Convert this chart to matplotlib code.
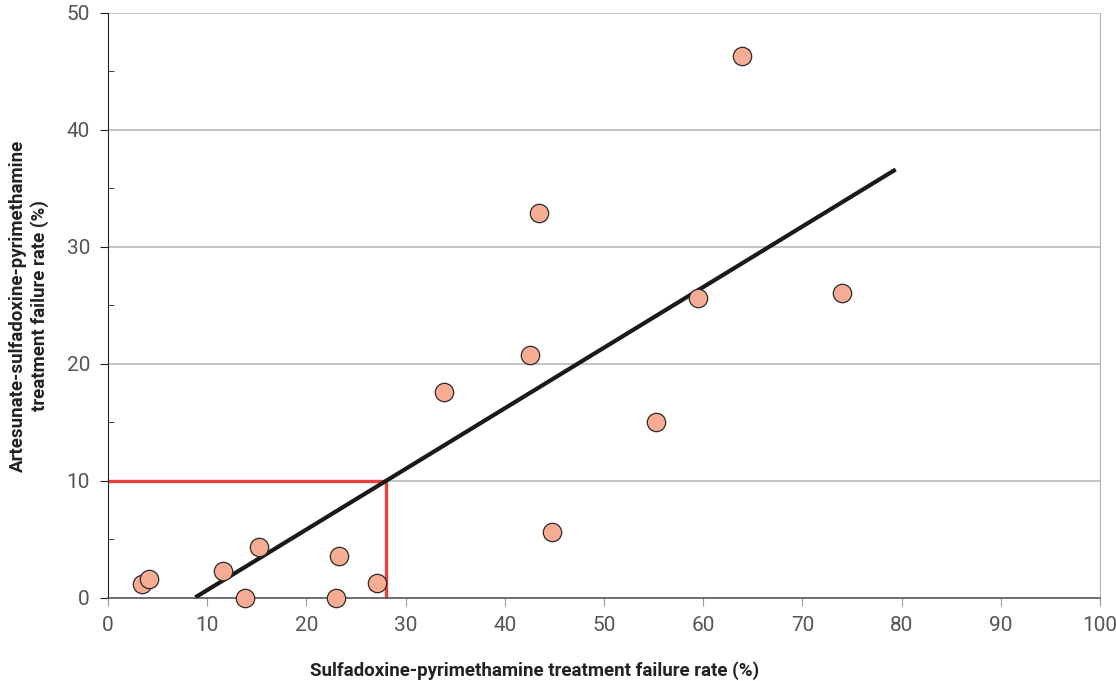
"""Scatter: AS-SP vs SP treatment failure rates"""
import numpy as np
import matplotlib
matplotlib.use("Agg")
import matplotlib.pyplot as plt

# data
sp_fail = [3.4, 4.1, 11.6, 15.2, 13.8, 23.3, 23.0, 27.1, 33.9, 42.5,
           43.4, 44.8, 55.2, 59.5, 63.9, 74.0]
as_sp_fail = [1.2, 1.6, 2.3, 4.4, 0.0, 3.6, 0.0, 1.3, 17.6, 20.8,
              32.9, 5.6, 15.0, 25.6, 46.3, 26.1]

fit_x = [8.8, 79.4]
fit_slope = 0.518
cutoff_y = 10
cutoff_x = 28

x_ticks = list(range(0, 101, 10))
y_ticks = list(range(0, 51, 10))

plt.rcParams['font.family'] = ['Roboto', 'DejaVu Sans']

fig = plt.figure(figsize=(11.16, 6.81), dpi=100)
ax = fig.add_axes([0.0968, 0.1219, 0.8889, 0.8591])

ax.set_xlim(0, 100)
ax.set_ylim(0, 50)

for yv in y_ticks[1:]:
    ax.axhline(yv, color='#b3b3b3', lw=1.1, zorder=0)

# cutoff lines
ax.plot([0, cutoff_x], [cutoff_y, cutoff_y], color='#e8403a', lw=2.4,
        solid_capstyle='butt', zorder=2, clip_on=False)
ax.plot([cutoff_x, cutoff_x], [0, cutoff_y], color='#e8403a', lw=2.4,
        solid_capstyle='butt', zorder=2, clip_on=False)

# regression line
fx = np.array(fit_x)
ax.plot(fx, fit_slope * (fx - 8.7), color='#1a1a1a', lw=3,
        solid_capstyle='butt', zorder=3)

ax.scatter(sp_fail, as_sp_fail, s=175, facecolor='#f7ad93',
           edgecolor='#2b2b2b', linewidth=0.9, zorder=4, clip_on=False)

ax.spines['top'].set_visible(False)
ax.spines['right'].set_color('#b3b3b3')
ax.spines['left'].set_color('#222222')
ax.spines['bottom'].set_color('#555555')
ax.spines['bottom'].set_linewidth(1.2)

ax.set_xticks(x_ticks)
ax.set_yticks(y_ticks)
ax.set_yticks([5, 15, 25, 35, 45], minor=True)
ax.tick_params(axis='x', direction='out', length=6, color='#999999',
               labelsize=15, labelcolor='#555555', pad=7)
ax.tick_params(axis='y', direction='out', length=6, color='#222222',
               labelsize=15, labelcolor='#555555', pad=7)
ax.tick_params(axis='y', which='minor', direction='in', length=4,
               color='#222222')

ax.set_xlabel('Sulfadoxine-pyrimethamine treatment failure rate (%)',
              fontsize=13.5, fontweight='bold', color='#222222')
ax.set_ylabel('Artesunate-sulfadoxine-pyrimethamine\ntreatment failure rate (%)',
              fontsize=13.5, fontweight='bold', color='#222222')
ax.xaxis.set_label_coords(0.43, -0.108)
ax.yaxis.set_label_coords(-0.06, 0.5)

plt.savefig("out.png", dpi=100)
